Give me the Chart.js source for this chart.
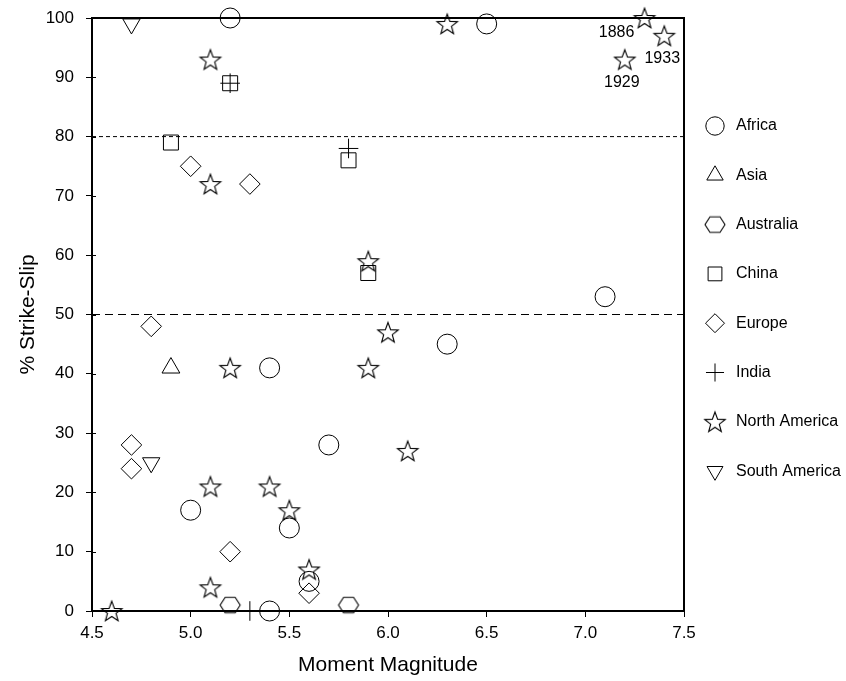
<!DOCTYPE html>
<html>
<head>
<meta charset="utf-8">
<script src="https://cdn.jsdelivr.net/npm/chart.js@4/dist/chart.umd.min.js"></script>
<style>
html,body{margin:0;padding:0;background:#fff;}
canvas{display:block;}
</style>
</head>
<body>
<canvas id="c" width="846" height="681"></canvas>
<script>
// ---------------- DATA ----------------
const regions = ['Africa','Asia','Australia','China','Europe','India','North America','South America'];

const africaX = [5.2, 6.5, 7.1, 6.3, 5.4, 5.7, 5.0, 5.5, 5.6, 5.4];
const africaY = [100, 99, 53, 45, 41, 28, 17, 14, 5, 0];

const asiaX = [4.9];
const asiaY = [41];

const australiaX = [5.2, 5.8];
const australiaY = [1, 1];

const chinaX = [5.2, 4.9, 5.8, 5.9];
const chinaY = [89, 79, 76, 57];

const europeX = [5.0, 5.3, 4.8, 4.7, 4.7, 5.2, 5.6];
const europeY = [75, 72, 48, 28, 24, 10, 3];

const indiaX = [5.2, 5.8, 5.3];
const indiaY = [89, 78, 0];

const northAmericaX = [5.1, 5.1, 6.3, 7.3, 7.4, 7.2, 5.9, 6.0, 5.2, 5.9, 6.1, 5.1, 5.4, 5.5, 5.6, 5.1, 4.6];
const northAmericaY = [93, 72, 99, 100, 97, 93, 59, 47, 41, 41, 27, 21, 21, 17, 7, 4, 0];

const southAmericaX = [4.7, 4.8];
const southAmericaY = [99, 25];

const xTickValues = [4.5, 5.0, 5.5, 6.0, 6.5, 7.0, 7.5];
const xTickLabels = ['4.5', '5.0', '5.5', '6.0', '6.5', '7.0', '7.5'];
const yTickValues = [0, 10, 20, 30, 40, 50, 60, 70, 80, 90, 100];
const yTickLabels = ['0', '10', '20', '30', '40', '50', '60', '70', '80', '90', '100'];

const referenceLevels = [80, 50];

const annotationLabels = ['1886', '1933', '1929'];
const annotationX = [7.3, 7.4, 7.2];
const annotationY = [100, 97, 93];

// ---------------- STYLE ----------------
const FONT = "'Liberation Sans', Arial, Helvetica, sans-serif";
const INK = '#000';

function makeStar() {
  const s = 26, c = document.createElement('canvas');
  c.width = s; c.height = s;
  const g = c.getContext('2d');
  g.strokeStyle = INK; g.lineWidth = 1.1; g.lineJoin = 'miter';
  const cx = 13, cy = 14, R = 10.8, r = 4.5;
  g.beginPath();
  for (let i = 0; i < 10; i++) {
    const a = -Math.PI / 2 + i * Math.PI / 5;
    const rr = i % 2 === 0 ? R : r;
    const x = cx + rr * Math.cos(a), y = cy + rr * Math.sin(a);
    if (i) g.lineTo(x, y); else g.moveTo(x, y);
  }
  g.closePath(); g.stroke();
  return c;
}
function makeHexagon() {
  const w = 24, h = 22, c = document.createElement('canvas');
  c.width = w; c.height = h;
  const g = c.getContext('2d');
  g.strokeStyle = INK; g.lineWidth = 1.1;
  const cx = 12, cy = 11, r = 10;
  g.beginPath();
  for (let i = 0; i < 6; i++) {
    const a = i * Math.PI / 3;
    const x = cx + r * Math.cos(a), y = cy + r * Math.sin(a) * 0.9;
    if (i) g.lineTo(x, y); else g.moveTo(x, y);
  }
  g.closePath(); g.stroke();
  return c;
}
const starImg = makeStar();
const hexImg = makeHexagon();

const markerStyles = [
  { pointStyle: 'circle', radius: 10, rotation: 0 },
  { pointStyle: 'triangle', radius: 10.3, rotation: 0 },
  { pointStyle: hexImg, radius: 10, rotation: 0 },
  { pointStyle: 'rect', radius: 10.6, rotation: 0 },
  { pointStyle: 'rectRot', radius: 10.3, rotation: 0 },
  { pointStyle: 'cross', radius: 9.8, rotation: 0 },
  { pointStyle: starImg, radius: 11, rotation: 0 },
  { pointStyle: 'triangle', radius: 10, rotation: 180 }
];

const seriesX = [africaX, asiaX, australiaX, chinaX, europeX, indiaX, northAmericaX, southAmericaX];
const seriesY = [africaY, asiaY, australiaY, chinaY, europeY, indiaY, northAmericaY, southAmericaY];

const toPoints = (xs, ys) => xs.map((x, i) => ({ x: x, y: ys[i] }));

const pointDatasets = regions.map((name, k) => ({
  label: name,
  data: toPoints(seriesX[k], seriesY[k]),
  pointStyle: markerStyles[k].pointStyle,
  pointRadius: markerStyles[k].radius,
  pointRotation: markerStyles[k].rotation,
  pointBorderColor: INK,
  pointBackgroundColor: 'rgba(0,0,0,0)',
  pointBorderWidth: 1,
  showLine: false,
  clip: false
}));

const dashPatterns = [[4, 3], [8, 5]];
const lineDatasets = referenceLevels.map((lvl, k) => ({
  label: 'ref' + k,
  data: [{ x: xTickValues[0], y: lvl }, { x: xTickValues[xTickValues.length - 1], y: lvl }],
  showLine: true,
  borderColor: INK,
  borderWidth: 1,
  borderDash: dashPatterns[k],
  pointRadius: 0,
  pointHoverRadius: 0,
  fill: false,
  clip: false
}));

// ---------------- PLUGINS ----------------
const framePlugin = {
  id: 'frame',
  beforeDatasetsDraw(chart) {
    const { ctx, chartArea: a, scales } = chart;
    ctx.save();
    ctx.strokeStyle = INK;
    ctx.lineWidth = 2;
    ctx.beginPath();
    ctx.moveTo(a.left, a.top);
    ctx.lineTo(a.right, a.top);
    ctx.lineTo(a.right, a.bottom);
    ctx.stroke();
    ctx.lineWidth = 1;
    ctx.beginPath();
    yTickValues.forEach(v => {
      const py = Math.round(scales.y.getPixelForValue(v)) + 0.5;
      ctx.moveTo(a.left, py);
      ctx.lineTo(a.left + 4, py);
    });
    ctx.stroke();
    ctx.restore();
  }
};

const annotationOffsets = [[-28, 15], [-2, 23], [-3, 23]];
const annotationPlugin = {
  id: 'yearLabels',
  afterDatasetsDraw(chart) {
    const { ctx, scales } = chart;
    ctx.save();
    ctx.fillStyle = INK;
    ctx.font = '16px ' + FONT;
    ctx.textAlign = 'center';
    ctx.textBaseline = 'middle';
    annotationLabels.forEach((t, i) => {
      const px = scales.x.getPixelForValue(annotationX[i]) + annotationOffsets[i][0];
      const py = scales.y.getPixelForValue(annotationY[i]) + annotationOffsets[i][1];
      ctx.fillText(t, px, py);
    });
    ctx.restore();
  }
};

const legendPlugin = {
  id: 'sideLegend',
  afterDraw(chart) {
    const { ctx, chartArea: a } = chart;
    const markerX = a.right + 31;
    const textX = a.right + 52;
    const startY = 126;
    const step = 49.3;
    ctx.save();
    regions.forEach((name, k) => {
      const y = startY + k * step;
      ctx.strokeStyle = INK;
      ctx.fillStyle = 'rgba(0,0,0,0)';
      ctx.lineWidth = 1;
      Chart.helpers.drawPoint(ctx, {
        pointStyle: markerStyles[k].pointStyle,
        radius: markerStyles[k].radius * 0.92,
        rotation: markerStyles[k].rotation,
        borderWidth: 1
      }, markerX, y);
      ctx.fillStyle = INK;
      ctx.font = '16px ' + FONT;
      ctx.textAlign = 'left';
      ctx.textBaseline = 'middle';
      ctx.fillText(name, textX, y);
    });
    ctx.restore();
  }
};

// ---------------- CHART ----------------
new Chart(document.getElementById('c'), {
  type: 'scatter',
  data: { datasets: [...pointDatasets, ...lineDatasets] },
  options: {
    responsive: false,
    animation: false,
    devicePixelRatio: 1,
    events: [],
    layout: { padding: { left: 0, top: 18, right: 162, bottom: 0 } },
    plugins: {
      legend: { display: false },
      tooltip: { enabled: false }
    },
    scales: {
      x: {
        type: 'linear',
        min: xTickValues[0],
        max: xTickValues[xTickValues.length - 1],
        afterBuildTicks: s => { s.ticks = xTickValues.map(v => ({ value: v })); },
        afterFit: s => { s.height = 70; s.paddingLeft = 0; s.paddingRight = 0; },
        ticks: {
          color: INK,
          font: { family: FONT, size: 17 },
          padding: 6,
          maxRotation: 0,
          callback: (v, i) => xTickLabels[i]
        },
        grid: { display: true, drawOnChartArea: false, drawTicks: true, tickLength: 6, tickColor: INK, tickWidth: 1 },
        border: { display: true, color: INK, width: 2 },
        title: {
          display: true,
          text: 'Moment Magnitude',
          color: INK,
          font: { family: FONT, size: 21 },
          padding: { top: 0, bottom: 3 }
        }
      },
      y: {
        type: 'linear',
        min: yTickValues[0],
        max: yTickValues[yTickValues.length - 1],
        afterBuildTicks: s => { s.ticks = yTickValues.map(v => ({ value: v })); },
        afterFit: s => { s.width = 92; s.paddingTop = 0; s.paddingBottom = 0; },
        ticks: {
          color: INK,
          font: { family: FONT, size: 17 },
          padding: 12,
          callback: (v, i) => yTickLabels[i]
        },
        grid: { display: true, drawOnChartArea: false, drawTicks: true, tickLength: 6, tickColor: INK, tickWidth: 1 },
        border: { display: true, color: INK, width: 2 },
        title: {
          display: true,
          text: '% Strike-Slip',
          color: INK,
          font: { family: FONT, size: 21 },
          padding: { top: 16, bottom: 0 }
        }
      }
    }
  },
  plugins: [framePlugin, annotationPlugin, legendPlugin]
});
</script>
</body>
</html>
